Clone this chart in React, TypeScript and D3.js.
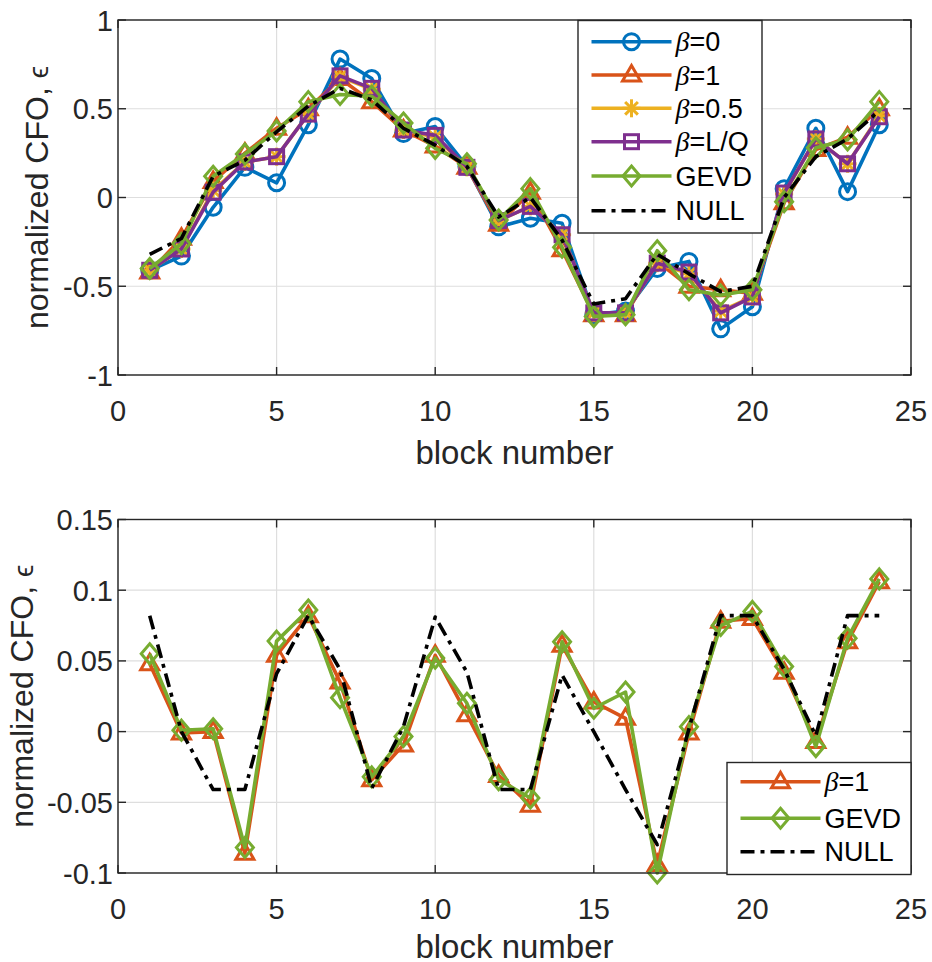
import React from "react";
import * as d3 from "d3";

const blocks = d3.range(1, 25);

// top panel
const topBeta0 = [-0.41, -0.33, -0.055, 0.17, 0.083, 0.41, 0.78, 0.67, 0.36, 0.4, 0.175, -0.165, -0.117, -0.145, -0.66, -0.64, -0.4, -0.36, -0.74, -0.615, 0.05, 0.39, 0.033, 0.41];
const topBeta1 = [-0.42, -0.23, 0.09, 0.25, 0.39, 0.5, 0.67, 0.54, 0.38, 0.29, 0.17, -0.15, 0.03, -0.295, -0.66, -0.66, -0.36, -0.5, -0.52, -0.54, -0.03, 0.27, 0.34, 0.5];
const topBeta05 = [-0.41, -0.29, 0.04, 0.2, 0.23, 0.47, 0.68, 0.61, 0.38, 0.34, 0.17, -0.13, -0.05, -0.21, -0.65, -0.65, -0.37, -0.43, -0.64, -0.56, 0.02, 0.33, 0.19, 0.46];
const topBetaLQ = [-0.41, -0.29, 0.03, 0.2, 0.23, 0.47, 0.685, 0.615, 0.38, 0.35, 0.17, -0.13, -0.05, -0.21, -0.65, -0.65, -0.37, -0.42, -0.65, -0.56, 0.025, 0.33, 0.19, 0.455];
const topGEVD = [-0.4, -0.26, 0.12, 0.245, 0.375, 0.54, 0.58, 0.57, 0.42, 0.277, 0.19, -0.127, 0.05, -0.28, -0.67, -0.66, -0.3, -0.52, -0.55, -0.52, -0.024, 0.28, 0.325, 0.54];
const topNULL = [-0.32, -0.23, 0.12, 0.21, 0.37, 0.515, 0.615, 0.55, 0.39, 0.295, 0.175, -0.11, 0.0, -0.24, -0.6, -0.57, -0.32, -0.43, -0.53, -0.5, 0.0, 0.23, 0.33, 0.49];

// bottom panel
const botBeta1 = [0.048, -0.001, 0.0, -0.086, 0.054, 0.082, 0.035, -0.034, -0.0094, 0.054, 0.012, -0.031, -0.052, 0.061, 0.021, 0.0094, -0.094, -0.001, 0.078, 0.08, 0.042, -0.007, 0.0635, 0.106];
const botGEVD = [0.055, 0.001, 0.002, -0.082, 0.064, 0.086, 0.024, -0.032, -0.0035, 0.052, 0.02, -0.034, -0.047, 0.0635, 0.0165, 0.028, -0.1, 0.0035, 0.075, 0.085, 0.046, -0.0106, 0.066, 0.108];
const botNULL = [0.082, 0.0, -0.041, -0.041, 0.041, 0.082, 0.044, -0.04, 0.0035, 0.081, 0.042, -0.041, -0.041, 0.04, 0.0, -0.041, -0.08, 0.002, 0.082, 0.082, 0.044, -0.003, 0.082, 0.082];

const xTicks = [0, 5, 10, 15, 20, 25];
const topYTicks = [-1, -0.5, 0, 0.5, 1];
const botYTicks = [-0.1, -0.05, 0, 0.05, 0.1, 0.15];

const C = {
  blue: "#0072BD",
  orange: "#D95319",
  yellow: "#EDB120",
  purple: "#7E2F8E",
  green: "#77AC30",
  black: "#000000",
};

const FONT = "'Liberation Sans', Arial, Helvetica, sans-serif";
const AX = "#262626";
const GRID = "#dedede";
const LW = 3.6;
const DASH = "14,6,4,6";

type Series = { name: string; beta?: string; values: number[]; color: string; marker: string; dash?: string };

const topSeries: Series[] = [
  { name: "=0", beta: "β", values: topBeta0, color: C.blue, marker: "circle" },
  { name: "=1", beta: "β", values: topBeta1, color: C.orange, marker: "triangle" },
  { name: "=0.5", beta: "β", values: topBeta05, color: C.yellow, marker: "asterisk" },
  { name: "=L/Q", beta: "β", values: topBetaLQ, color: C.purple, marker: "square" },
  { name: "GEVD", values: topGEVD, color: C.green, marker: "diamond" },
  { name: "NULL", values: topNULL, color: C.black, marker: "none", dash: DASH },
];

const botSeries: Series[] = [
  { name: "=1", beta: "β", values: botBeta1, color: C.orange, marker: "triangle" },
  { name: "GEVD", values: botGEVD, color: C.green, marker: "diamond" },
  { name: "NULL", values: botNULL, color: C.black, marker: "none", dash: DASH },
];

function Marker({ type, x, y, color }: { type: string; x: number; y: number; color: string }) {
  const sw = 3;
  if (type === "circle") return <circle cx={x} cy={y} r={8} fill="none" stroke={color} strokeWidth={sw} />;
  if (type === "triangle") {
    const p = `${x},${y - 9.5} ${x + 9},${y + 6} ${x - 9},${y + 6}`;
    return <polygon points={p} fill="none" stroke={color} strokeWidth={sw} strokeLinejoin="miter" />;
  }
  if (type === "square") return <rect x={x - 7} y={y - 7} width={14} height={14} fill="none" stroke={color} strokeWidth={sw} />;
  if (type === "diamond") {
    const p = `${x},${y - 10} ${x + 8.5},${y} ${x},${y + 10} ${x - 8.5},${y}`;
    return <polygon points={p} fill="none" stroke={color} strokeWidth={sw} />;
  }
  if (type === "asterisk") {
    const r = 9;
    const d = r * 0.707;
    return (
      <g stroke={color} strokeWidth={sw}>
        <line x1={x - r} y1={y} x2={x + r} y2={y} />
        <line x1={x} y1={y - r} x2={x} y2={y + r} />
        <line x1={x - d} y1={y - d} x2={x + d} y2={y + d} />
        <line x1={x - d} y1={y + d} x2={x + d} y2={y - d} />
      </g>
    );
  }
  return null;
}

type Box = { left: number; right: number; top: number; bottom: number };

function Panel({ box, yDomain, yTicks, series, legend, ylabelX, xlabelY }: { box: Box; yDomain: [number, number]; yTicks: number[]; series: Series[]; legend: { x: number; y: number; w: number; h: number; rows: number[] }; ylabelX: number; xlabelY: number }) {
  const x = d3.scaleLinear().domain([0, 25]).range([box.left, box.right]);
  const y = d3.scaleLinear().domain(yDomain).range([box.bottom, box.top]);
  const line = d3
    .line<number>()
    .x((_, i) => x(blocks[i]))
    .y((v) => y(v));
  const tl = 8;
  return (
    <g>
      {xTicks.map((t) => (
        <line key={"gx" + t} x1={x(t)} x2={x(t)} y1={box.top} y2={box.bottom} stroke={GRID} strokeWidth={1.2} />
      ))}
      {yTicks.map((t) => (
        <line key={"gy" + t} x1={box.left} x2={box.right} y1={y(t)} y2={y(t)} stroke={GRID} strokeWidth={1.2} />
      ))}
      {series.map((s) => (
        <g key={s.name + s.color}>
          <path d={line(s.values) || ""} fill="none" stroke={s.color} strokeWidth={LW} strokeDasharray={s.dash} strokeLinejoin="round" />
          {s.values.map((v, i) => (
            <Marker key={i} type={s.marker} x={x(blocks[i])} y={y(v)} color={s.color} />
          ))}
        </g>
      ))}
      <rect x={box.left} y={box.top} width={box.right - box.left} height={box.bottom - box.top} fill="none" stroke={AX} strokeWidth={1.4} />
      {xTicks.map((t) => (
        <g key={"tx" + t} stroke={AX} strokeWidth={1.4}>
          <line x1={x(t)} x2={x(t)} y1={box.bottom} y2={box.bottom - tl} />
          <line x1={x(t)} x2={x(t)} y1={box.top} y2={box.top + tl} />
        </g>
      ))}
      {yTicks.map((t) => (
        <g key={"ty" + t} stroke={AX} strokeWidth={1.4}>
          <line x1={box.left} x2={box.left + tl} y1={y(t)} y2={y(t)} />
          <line x1={box.right} x2={box.right - tl} y1={y(t)} y2={y(t)} />
        </g>
      ))}
      {xTicks.map((t) => (
        <text key={"lx" + t} x={x(t)} y={box.bottom + 46} textAnchor="middle" fontSize={29} fill={AX} fontFamily={FONT}>
          {String(t)}
        </text>
      ))}
      {yTicks.map((t) => (
        <text key={"ly" + t} x={box.left - 5} y={y(t) + 10.5} textAnchor="end" fontSize={29} fill={AX} fontFamily={FONT}>
          {String(t)}
        </text>
      ))}
      <text x={(box.left + box.right) / 2} y={xlabelY} textAnchor="middle" fontSize={33} fill={AX} fontFamily={FONT}>
        block number
      </text>
      <text transform={`translate(${ylabelX},${(box.top + box.bottom) / 2}) rotate(-90)`} textAnchor="middle" fontSize={32} fill={AX} fontFamily={FONT}>
        normalized CFO, <tspan fontSize={28}>ϵ</tspan>
      </text>
      <rect x={legend.x} y={legend.y} width={legend.w} height={legend.h} fill="#fff" stroke={AX} strokeWidth={1.4} />
      {series.map((s, i) => {
        const ry = legend.rows[i];
        const x1 = legend.x + 13.5;
        const x2 = x1 + 80;
        return (
          <g key={"lg" + i}>
            <line x1={x1} x2={x2} y1={ry} y2={ry} stroke={s.color} strokeWidth={LW} strokeDasharray={s.dash} />
            <Marker type={s.marker} x={(x1 + x2) / 2} y={ry} color={s.color} />
            <text x={x2 + 4} y={ry + 9.5} fontSize={27} fill="#000" fontFamily={FONT}>
              {s.beta ? (
                <tspan fontFamily="'Liberation Serif', serif" fontStyle="italic" fontSize={28}>
                  {s.beta}
                </tspan>
              ) : null}
              {s.name}
            </text>
          </g>
        );
      })}
    </g>
  );
}

export default function App() {
  return (
    <svg width={932} height={962} viewBox="0 0 932 962" style={{ position: "absolute", left: 0, top: 0, background: "#fff" }}>
      <rect x={0} y={0} width={932} height={962} fill="#fff" />
      <Panel
        box={{ left: 118, right: 911, top: 20, bottom: 375 }}
        yDomain={[-1, 1]}
        yTicks={topYTicks}
        series={topSeries}
        legend={{ x: 578, y: 20.5, w: 184, h: 212.5, rows: [41.7, 75, 108.3, 141.7, 176, 210.7] }}
        ylabelX={48}
        xlabelY={464}
      />
      <Panel
        box={{ left: 118, right: 911, top: 519.5, bottom: 873 }}
        yDomain={[-0.1, 0.15]}
        yTicks={botYTicks}
        series={botSeries}
        legend={{ x: 727, y: 762.5, w: 184, h: 112, rows: [781.7, 818.3, 851.7] }}
        ylabelX={33}
        xlabelY={958}
      />
    </svg>
  );
}
